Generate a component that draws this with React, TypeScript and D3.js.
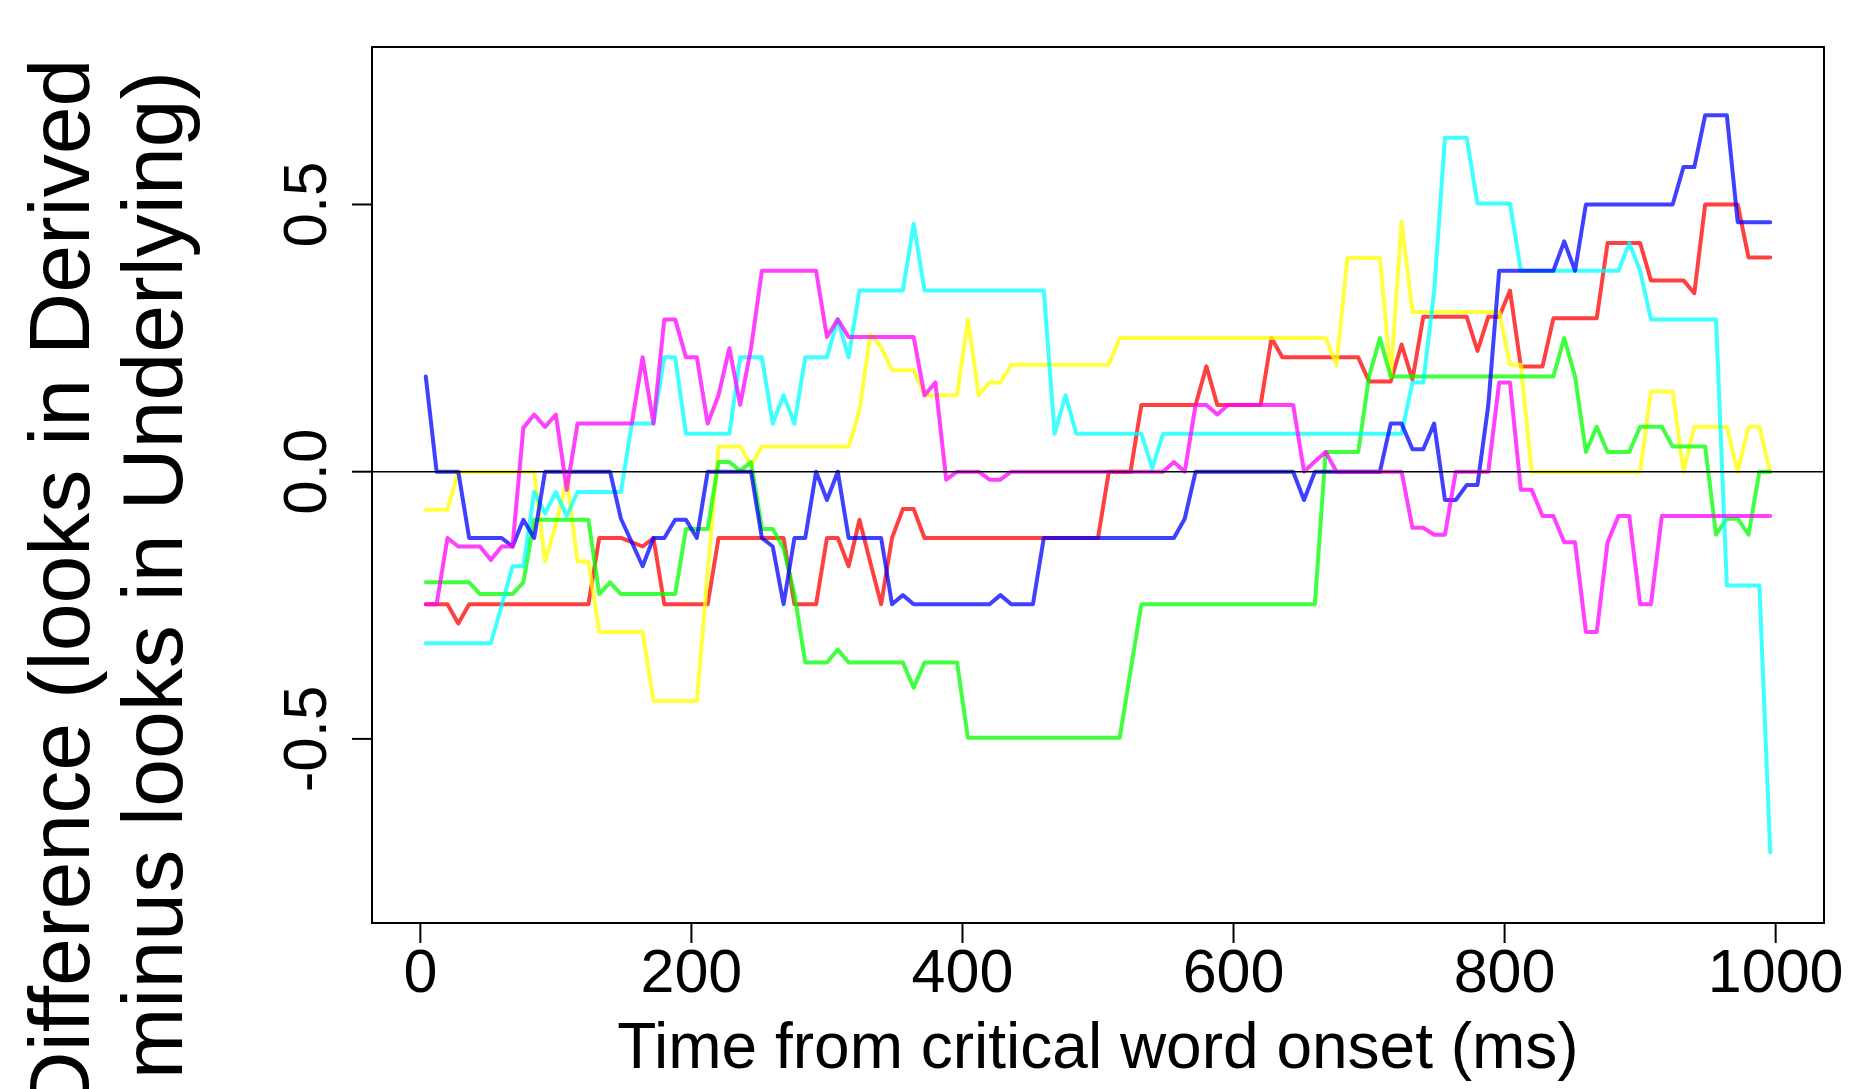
import React from 'react'
import * as d3 from 'd3'

// sample times (ms): one sample every 8 ms from 4 to 996
const times = d3.range(4, 1000, 8)

const red = [
  -0.248, -0.248, -0.248, -0.284, -0.248, -0.248, -0.248, -0.248, -0.248, -0.248,
  -0.248, -0.248, -0.248, -0.248, -0.248, -0.248, -0.124, -0.124, -0.124, -0.132,
  -0.14, -0.124, -0.248, -0.248, -0.248, -0.248, -0.248, -0.124, -0.124, -0.124,
  -0.124, -0.124, -0.124, -0.124, -0.248, -0.248, -0.248, -0.124, -0.124, -0.177,
  -0.09, -0.17, -0.248, -0.124, -0.07, -0.07, -0.124, -0.124, -0.124, -0.124,
  -0.124, -0.124, -0.124, -0.124, -0.124, -0.124, -0.124, -0.124, -0.124, -0.124,
  -0.124, -0.124, -0.124, 0, 0, 0, 0.125, 0.125, 0.125, 0.125,
  0.125, 0.125, 0.197, 0.125, 0.125, 0.125, 0.125, 0.125, 0.25, 0.214,
  0.214, 0.214, 0.214, 0.214, 0.214, 0.214, 0.214, 0.169, 0.169, 0.169,
  0.238, 0.172, 0.29, 0.29, 0.29, 0.29, 0.29, 0.226, 0.29, 0.29,
  0.339, 0.197, 0.197, 0.197, 0.287, 0.287, 0.287, 0.287, 0.287, 0.428,
  0.428, 0.428, 0.428, 0.358, 0.358, 0.358, 0.358, 0.334, 0.5, 0.5,
  0.5, 0.5, 0.401, 0.401, 0.401
]

const green = [
  -0.207, -0.207, -0.207, -0.207, -0.207, -0.229, -0.229, -0.229, -0.229, -0.207,
  -0.09, -0.09, -0.09, -0.09, -0.09, -0.09, -0.229, -0.207, -0.229, -0.229,
  -0.229, -0.229, -0.229, -0.229, -0.107, -0.107, -0.107, 0.018, 0.018, 0.002,
  0.018, -0.107, -0.107, -0.144, -0.229, -0.357, -0.357, -0.357, -0.333, -0.357,
  -0.357, -0.357, -0.357, -0.357, -0.357, -0.404, -0.357, -0.357, -0.357, -0.357,
  -0.498, -0.498, -0.498, -0.498, -0.498, -0.498, -0.498, -0.498, -0.498, -0.498,
  -0.498, -0.498, -0.498, -0.498, -0.498, -0.373, -0.248, -0.248, -0.248, -0.248,
  -0.248, -0.248, -0.248, -0.248, -0.248, -0.248, -0.248, -0.248, -0.248, -0.248,
  -0.248, -0.248, -0.248, 0.037, 0.037, 0.037, 0.037, 0.178, 0.25, 0.178,
  0.178, 0.178, 0.178, 0.178, 0.178, 0.178, 0.178, 0.178, 0.178, 0.178,
  0.178, 0.178, 0.178, 0.178, 0.178, 0.25, 0.178, 0.037, 0.084, 0.037,
  0.037, 0.037, 0.084, 0.084, 0.084, 0.047, 0.047, 0.047, 0.047, -0.118,
  -0.088, -0.088, -0.118, 0, 0
]

const blue = [
  0.178, 0, 0, 0, -0.124, -0.124, -0.124, -0.124, -0.14, -0.09,
  -0.124, 0, 0, 0, 0, 0, 0, 0, -0.088, -0.132,
  -0.177, -0.124, -0.124, -0.09, -0.09, -0.124, 0, 0, 0, 0,
  0, -0.124, -0.14, -0.248, -0.124, -0.124, 0, -0.053, 0, -0.124,
  -0.124, -0.124, -0.124, -0.248, -0.231, -0.248, -0.248, -0.248, -0.248, -0.248,
  -0.248, -0.248, -0.248, -0.231, -0.248, -0.248, -0.248, -0.124, -0.124, -0.124,
  -0.124, -0.124, -0.124, -0.124, -0.124, -0.124, -0.124, -0.124, -0.124, -0.124,
  -0.088, 0, 0, 0, 0, 0, 0, 0, 0, 0,
  0, -0.053, 0, 0, 0, 0, 0, 0, 0, 0.09,
  0.09, 0.042, 0.042, 0.09, -0.053, -0.053, -0.025, -0.025, 0.125, 0.376,
  0.376, 0.376, 0.376, 0.376, 0.376, 0.431, 0.376, 0.5, 0.5, 0.5,
  0.5, 0.5, 0.5, 0.5, 0.5, 0.5, 0.57, 0.57, 0.667, 0.667,
  0.667, 0.467, 0.467, 0.467, 0.467
]

const cyan = [
  -0.321, -0.321, -0.321, -0.321, -0.321, -0.321, -0.321, -0.25, -0.177, -0.177,
  -0.038, -0.078, -0.038, -0.083, -0.038, -0.038, -0.038, -0.038, -0.038, 0.09,
  0.09, 0.09, 0.214, 0.214, 0.071, 0.071, 0.071, 0.071, 0.071, 0.214,
  0.214, 0.214, 0.09, 0.143, 0.09, 0.214, 0.214, 0.214, 0.285, 0.214,
  0.339, 0.339, 0.339, 0.339, 0.339, 0.464, 0.339, 0.339, 0.339, 0.339,
  0.339, 0.339, 0.339, 0.339, 0.339, 0.339, 0.339, 0.339, 0.071, 0.143,
  0.071, 0.071, 0.071, 0.071, 0.071, 0.071, 0.071, 0.007, 0.071, 0.071,
  0.071, 0.071, 0.071, 0.071, 0.071, 0.071, 0.071, 0.071, 0.071, 0.071,
  0.071, 0.071, 0.071, 0.071, 0.071, 0.071, 0.071, 0.071, 0.071, 0.071,
  0.071, 0.167, 0.167, 0.337, 0.625, 0.625, 0.625, 0.502, 0.502, 0.502,
  0.502, 0.376, 0.376, 0.376, 0.376, 0.376, 0.376, 0.376, 0.376, 0.376,
  0.376, 0.428, 0.376, 0.285, 0.285, 0.285, 0.285, 0.285, 0.285, 0.285,
  -0.213, -0.213, -0.213, -0.213, -0.712
]

const magenta = [
  -0.248, -0.248, -0.124, -0.14, -0.14, -0.14, -0.165, -0.14, -0.14, 0.082,
  0.107, 0.084, 0.107, -0.034, 0.09, 0.09, 0.09, 0.09, 0.09, 0.09,
  0.214, 0.09, 0.285, 0.285, 0.214, 0.214, 0.09, 0.143, 0.231, 0.125,
  0.231, 0.376, 0.376, 0.376, 0.376, 0.376, 0.376, 0.252, 0.285, 0.252,
  0.252, 0.252, 0.252, 0.252, 0.252, 0.252, 0.143, 0.167, -0.015, 0,
  0, 0, -0.015, -0.015, 0, 0, 0, 0, 0, 0,
  0, 0, 0, 0, 0, 0, 0, 0, 0, 0.018,
  0, 0.125, 0.125, 0.107, 0.125, 0.125, 0.125, 0.125, 0.125, 0.125,
  0.125, 0, 0.019, 0.037, 0, 0, 0, 0, 0, 0,
  0, -0.105, -0.105, -0.118, -0.118, 0, 0, 0, 0, 0.167,
  0.167, -0.034, -0.034, -0.083, -0.083, -0.132, -0.132, -0.3, -0.3, -0.132,
  -0.083, -0.083, -0.248, -0.248, -0.083, -0.083, -0.083, -0.083, -0.083, -0.083,
  -0.083, -0.083, -0.083, -0.083, -0.083
]

const yellow = [
  -0.071, -0.071, -0.071, 0, 0, 0, 0, 0, 0, 0,
  0, -0.168, -0.099, -0.015, -0.168, -0.168, -0.3, -0.3, -0.3, -0.3,
  -0.3, -0.429, -0.429, -0.429, -0.429, -0.429, -0.19, 0.047, 0.047, 0.047,
  0.011, 0.047, 0.047, 0.047, 0.047, 0.047, 0.047, 0.047, 0.047, 0.047,
  0.115, 0.257, 0.233, 0.19, 0.19, 0.19, 0.143, 0.143, 0.143, 0.143,
  0.285, 0.143, 0.167, 0.167, 0.2, 0.2, 0.2, 0.2, 0.2, 0.2,
  0.2, 0.2, 0.2, 0.2, 0.25, 0.25, 0.25, 0.25, 0.25, 0.25,
  0.25, 0.25, 0.25, 0.25, 0.25, 0.25, 0.25, 0.25, 0.25, 0.25,
  0.25, 0.25, 0.25, 0.25, 0.2, 0.4, 0.4, 0.4, 0.4, 0.178,
  0.467, 0.299, 0.299, 0.299, 0.299, 0.299, 0.299, 0.299, 0.299, 0.299,
  0.2, 0.2, 0, 0, 0, 0, 0, 0, 0, 0,
  0, 0, 0, 0.15, 0.15, 0.15, 0, 0.084, 0.084, 0.084,
  0.084, 0, 0.084, 0.084, 0
]

// drawn in this order (rainbow order, later ones on top)
const series = [
  { name: 'red', color: '#ff0000', values: red },
  { name: 'yellow', color: '#ffff00', values: yellow },
  { name: 'green', color: '#00ff00', values: green },
  { name: 'cyan', color: '#00ffff', values: cyan },
  { name: 'blue', color: '#0000ff', values: blue },
  { name: 'magenta', color: '#ff00ff', values: magenta }
]

const xTicks = [0, 200, 400, 600, 800, 1000]
const yTicks = [-0.5, 0, 0.5]

const W = 1850
const H = 1089
const box = { left: 372, right: 1824, top: 47, bottom: 923 }
const font = '"Liberation Sans", Arial, Helvetica, sans-serif'

export default function App() {
  // R style axis: data range padded by 4% on each side
  const [t0, t1] = d3.extent(times) as [number, number]
  const pad = (t1 - t0) * 0.04
  const x = d3.scaleLinear().domain([t0 - pad, t1 + pad]).range([box.left, box.right])
  const y = d3.scaleLinear().domain([-0.8445, 0.7947]).range([box.bottom, box.top])

  const line = d3
    .line<number>()
    .x((d, i) => x(times[i]))
    .y(d => y(d))

  return (
    <svg
      width={W}
      height={H}
      style={{ position: 'absolute', left: 0, top: 0, background: '#fff' }}
      fontFamily={font}
    >
      <rect x={0} y={0} width={W} height={H} fill="#fff" />
      <g>
        {series.map(s => (
          <path
            key={s.name}
            d={line(s.values) || ''}
            fill="none"
            stroke={s.color}
            strokeOpacity={0.75}
            strokeWidth={4}
            strokeLinejoin="round"
            strokeLinecap="round"
          />
        ))}
      </g>
      <line x1={box.left} x2={box.right} y1={y(0)} y2={y(0)} stroke="#000" strokeWidth={1.5} />
      <rect
        x={box.left}
        y={box.top}
        width={box.right - box.left}
        height={box.bottom - box.top}
        fill="none"
        stroke="#000"
        strokeWidth={2}
      />
      {/* x axis */}
      <g>
        {xTicks.map(t => (
          <g key={t}>
            <line x1={x(t)} x2={x(t)} y1={box.bottom} y2={box.bottom + 20} stroke="#000" strokeWidth={2} />
            <text x={x(t)} y={992} textAnchor="middle" fontSize={61}>
              {t}
            </text>
          </g>
        ))}
        <text x={(box.left + box.right) / 2} y={1068} textAnchor="middle" fontSize={64}>
          Time from critical word onset (ms)
        </text>
      </g>
      {/* y axis */}
      <g>
        {yTicks.map(t => (
          <g key={t}>
            <line x1={box.left - 20} x2={box.left} y1={y(t)} y2={y(t)} stroke="#000" strokeWidth={2} />
            <text
              transform={`translate(326,${y(t)}) rotate(-90)`}
              textAnchor="middle"
              fontSize={62}
            >
              {t.toFixed(1)}
            </text>
          </g>
        ))}
        <text transform="translate(89,586) rotate(-90)" textAnchor="middle" fontSize={86}>
          Difference (looks in Derived
        </text>
        <text transform="translate(182,575) rotate(-90)" textAnchor="middle" fontSize={86}>
          minus looks in Underlying)
        </text>
      </g>
    </svg>
  )
}
